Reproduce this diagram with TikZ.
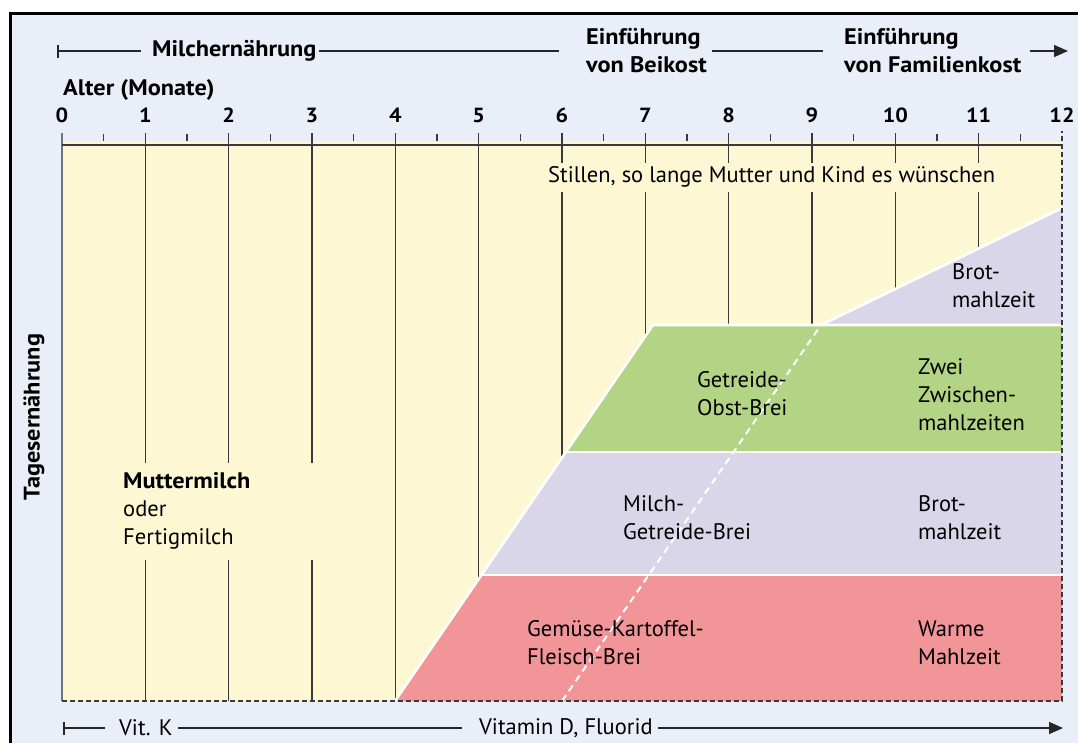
\documentclass[tikz,border=0pt]{standalone}
\usepackage{fontspec}
\setmainfont{PT Sans}[BoldFeatures={FakeStretch=1.08}]
\usetikzlibrary{arrows.meta}
\definecolor{bgc}{HTML}{EAEEF8}
\definecolor{yel}{HTML}{FDF8D3}
\definecolor{grn}{HTML}{B3D385}
\definecolor{lav}{HTML}{DAD6E9}
\definecolor{pnk}{HTML}{F29599}
\definecolor{gridc}{HTML}{3A3A3A}
\begin{document}
\begin{tikzpicture}[x=1pt,y=-1pt,
  lbl/.style={font=\fontsize{22.5}{28}\selectfont, align=left, inner sep=0pt, anchor=west, text=black},
  hdr/.style={font=\fontsize{22.5}{28}\selectfont\bfseries, align=left, inner sep=0pt, anchor=west},
  num/.style={font=\fontsize{20.5}{24}\selectfont\bfseries, inner sep=0pt},
  gridline/.style={draw=gridc, line width=1.6pt},
  hline/.style={draw=black!85, line width=1.5pt},
  wline/.style={draw=white, line width=2.6pt},
  wdash/.style={draw=white, line width=2pt, dash pattern=on 7pt off 5pt},
  dline/.style={draw=gridc, line width=1.6pt, dash pattern=on 5pt off 3pt}
]
\useasboundingbox (0,0) rectangle (1078,742);
\clip (0,0) rectangle (1078,742);
\fill[white] (0,0) rectangle (1078,742);
\filldraw[fill=bgc, draw=black, line width=3pt] (10,13) rectangle (1110,770);

% yellow field
\fill[yel] (62,142) rectangle (1062,701);

% grid lines
\foreach \m in {1,2,3} {
  \draw[gridline] ({62+83.333*\m},133) -- ({62+83.333*\m},463);
  \draw[gridline] ({62+83.333*\m},560) -- ({62+83.333*\m},701);
}
\foreach \m in {4,5} \draw[gridline] ({62+83.333*\m},133) -- ({62+83.333*\m},701);
\foreach \m in {6,...,11} {
  \draw[gridline] ({62+83.333*\m},133) -- ({62+83.333*\m},163);
  \draw[gridline] ({62+83.333*\m},192) -- ({62+83.333*\m},701);
}
\draw[gridline, draw=black!55] (62,133) -- (62,701);
\foreach \m in {0,...,11} \draw[gridline] ({62+83.333*(\m+0.5)},134) -- ++(0,7);
\draw[gridline] (62,145) -- (1062,145);
\foreach \m in {0,...,12} \node[num] (n\m) at ({62+83.333*\m},115) {\m};
\node[hdr] (alter) at (63,90) {Alter (Monate)};

% food bands
\fill[pnk] (395,701) -- (481,575) -- (1062,575) -- (1062,701) -- cycle;
\fill[lav] (481,575) -- (566,452) -- (1062,452) -- (1062,575) -- cycle;
\fill[grn] (566,452) -- (653,325) -- (1062,325) -- (1062,452) -- cycle;
\fill[lav] (821,325) -- (1062,208) -- (1062,325) -- cycle;
\draw[wline] (395,701) -- (653,325) -- (1062,325);
\draw[wline] (481,575) -- (1062,575);
\draw[wline] (566,452) -- (1062,452);
\draw[wline] (821,325) -- (1062,208);
\draw[wdash] (562,701) -- (821,325);
\draw[dline] (62,701) -- (1062,701) -- (1062,131);

% texts in the field
\node[lbl] (still) at (548,177) {Stillen, so lange Mutter und Kind es wünschen};
\node[lbl] (brot1) at (952,286) {Brot-\\mahlzeit};
\node[lbl] (gob) at (697,394) {Getreide-\\Obst-Brei};
\node[lbl] (zwei) at (918,395) {Zwei\\Zwischen-\\mahlzeiten};
\node[lbl] (mgb) at (623,518) {Milch-\\Getreide-Brei};
\node[lbl] (brot2) at (918,518) {Brot-\\mahlzeit};
\node[lbl] (gkf) at (527,643) {Gemüse-Kartoffel-\\Fleisch-Brei};
\node[lbl] (warm) at (918,643) {Warme\\Mahlzeit};
\node[lbl] (mutter) at (123,511) {\textbf{Muttermilch}\\oder\\Fertigmilch};
\node[hdr, rotate=90, anchor=center] (tages) at (34,417) {Tagesernährung};

% header row
\node[hdr] (milch) at (152,51) {Milchernährung};
\node[hdr] (beikost) at (586,51) {Einführung\\von Beikost};
\node[hdr] (familie) at (844,51) {Einführung\\von Familienkost};
\coordinate (h0) at (57,51);
\coordinate (h1) at (141,51);
\coordinate (h2) at (319,51);
\coordinate (h3) at (559,51);
\coordinate (h4) at (712,51);
\coordinate (h5) at (823,51);
\coordinate (h6) at (1030,51);
\coordinate (h7) at (1068,51);
\draw[hline, {Bar[width=13pt]}-] (h0) -- (h1);
\draw[hline] (h2) -- (h3);
\draw[hline] (h4) -- (h5);
\draw[hline, -{Triangle[length=14pt,width=12pt]}] (h6) -- (h7);

% bottom row
\node[lbl] (vitk) at (119,728) {Vit. K};
\node[lbl] (vitd) at (479,728) {Vitamin D, Fluorid};
\coordinate (b0) at (63,728);
\coordinate (b1) at (105,728);
\coordinate (b2) at (178,728);
\coordinate (b3) at (462,728);
\coordinate (b4) at (658,728);
\coordinate (b5) at (1063,728);
\draw[hline, {Bar[width=13pt]}-] (b0) -- (b1);
\draw[hline] (b2) -- (b3);
\draw[hline, -{Triangle[length=14pt,width=12pt]}] (b4) -- (b5);
\end{tikzpicture}
\end{document}
